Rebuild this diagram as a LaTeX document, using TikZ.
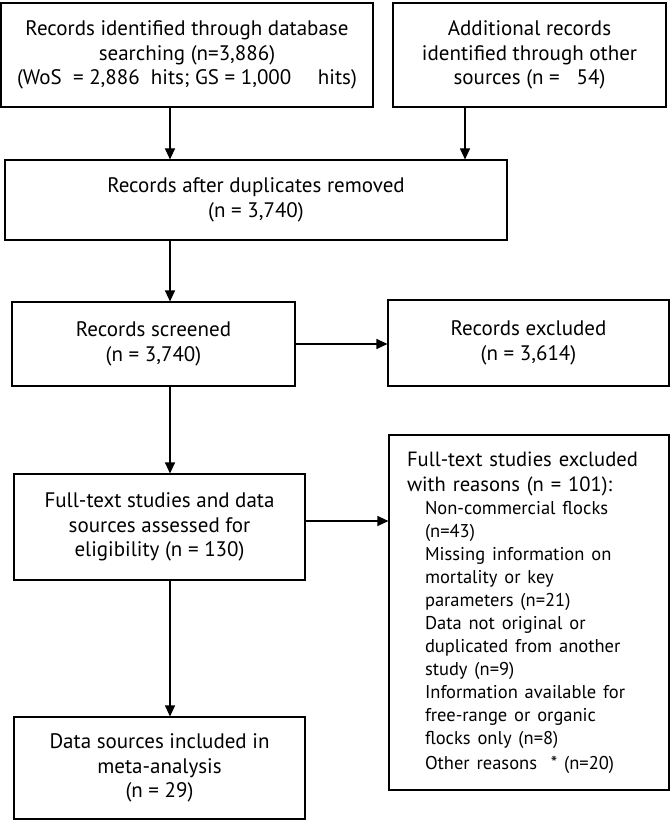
\documentclass[tikz,border=0pt]{standalone}
\usepackage{fontspec}
\setmainfont{PT Sans}
\usetikzlibrary{arrows.meta}
\newcommand{\subitm}{\hspace*{18pt}}
\begin{document}
\begin{tikzpicture}[x=1pt,y=1pt,
  box/.style={draw, line width=1.1pt, align=center, inner sep=0pt,
    font=\fontsize{21}{24.5}\selectfont},
  arr/.style={line width=1.1pt, -{Triangle[length=11pt,width=10pt]}}]
\useasboundingbox (0,0) rectangle (670,-821);
\coordinate (ax) at (170,0);
\coordinate (bx) at (465,0);
\coordinate (ay) at (0,-521);

\node[box, minimum width=372pt, minimum height=104pt] (b1) at (187,-55)
  {Records identified through database\\searching (n=3,886)\\(WoS\ \ = 2,886\ \ hits; GS = 1,000\quad\ hits)};
\node[box, minimum width=273pt, minimum height=104pt] (b2) at (529.5,-55)
  {Additional records\\identified through other\\sources (n =\ \ \ 54)};
\node[box, minimum width=502pt, minimum height=80pt] (b3) at (256,-200)
  {Records after duplicates removed\\(n =\ 3,740)};
\node[box, minimum width=283pt, minimum height=84pt] (b4) at (153.5,-344)
  {Records screened\\(n = 3,740)};
\node[box, minimum width=281pt, minimum height=86pt] (b5) at (528.5,-343)
  {Records excluded\\(n = 3,614)};
\node[box, minimum width=291pt, minimum height=106pt] (b6) at (159.5,-527)
  {Full-text studies and data\\sources assessed for\\eligibility (n =\ 130)};
\node[box, minimum width=280pt, minimum height=355pt, text width=244pt, align=left,
  font=\fontsize{20.6}{25}\selectfont] (b7) at (529,-612.5)
  {Full-text studies excluded\\
   with reasons (n = 101):\\
   \fontsize{18.5}{23}\selectfont
   \subitm Non-commercial flocks\\
   \subitm (n=43)\\
   \subitm Missing information on\\
   \subitm mortality or key\\
   \subitm parameters (n=21)\\
   \subitm Data not original or\\
   \subitm duplicated from another\\
   \subitm study (n=9)\\
   \subitm Information available for\\
   \subitm free-range or organic\\
   \subitm flocks only (n=8)\\
   \subitm Other reasons\ \ * (n=20)};
\node[box, minimum width=291pt, minimum height=102pt] (b8) at (159.5,-768)
  {Data sources included in\\meta-analysis\\(n =\ 29)};

\draw[arr] (b1.south -| ax) -- (b3.north -| ax);
\draw[arr] (b2.south -| bx) -- (b3.north -| bx);
\draw[arr] (b3.south -| ax) -- (b4.north -| ax);
\draw[arr] (b4.east) -- (b5.west |- b4.east);
\draw[arr] (b4.south -| ax) -- (b6.north -| ax);
\draw[arr] (b6.east |- ay) -- (b7.west |- ay);
\draw[arr] (b6.south -| ax) -- (b8.north -| ax);
\end{tikzpicture}
\end{document}
